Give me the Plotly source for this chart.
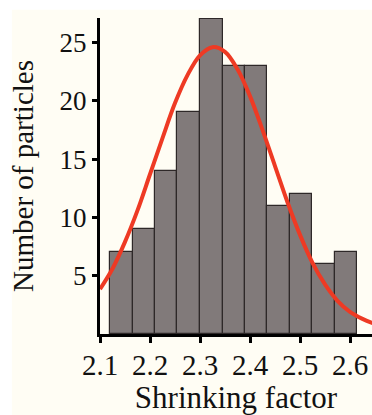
import plotly.graph_objects as go

# Histogram data
bin_centers = [2.1434, 2.1877, 2.2323, 2.2773, 2.3227, 2.3677, 2.4123, 2.4573, 2.5023, 2.5473, 2.5923]
counts = [7, 9, 14, 19, 27, 23, 23, 11, 12, 6, 7]
bin_width = 0.0449

# Fitted curve
fit_x = [2.100, 2.125, 2.150, 2.175, 2.200, 2.225, 2.250, 2.275, 2.300, 2.325,
         2.350, 2.375, 2.400, 2.425, 2.450, 2.475, 2.500, 2.525, 2.550, 2.575,
         2.600, 2.625, 2.650]
fit_y = [3.85, 5.6, 7.9, 10.6, 13.7, 16.8, 19.8, 22.2, 23.9, 24.6,
         24.2, 22.7, 20.4, 17.5, 14.4, 11.3, 8.5, 6.1, 4.25, 2.85,
         1.9, 1.3, 0.85]

x_ticks = [2.1, 2.2, 2.3, 2.4, 2.5, 2.6]
x_tick_text = ["2.1", "2.2", "2.3", "2.4", "2.5", "2.6"]
y_ticks = [5, 10, 15, 20, 25]

FONT = "Liberation Serif, Times New Roman, serif"
CREAM = "#FFFDF4"

fig = go.Figure()
fig.add_trace(go.Bar(
    x=bin_centers, y=counts, width=[bin_width] * len(counts),
    marker=dict(color="#817A7A", line=dict(color="#2E2828", width=1.2)),
    showlegend=False, hoverinfo="skip",
))
fig.add_trace(go.Scatter(
    x=fit_x, y=fit_y, mode="lines", line=dict(color="#EE3A24", width=4, shape="spline"),
    showlegend=False, hoverinfo="skip",
))

fig.update_layout(
    width=372, height=415,
    margin=dict(l=100, r=0, t=18, b=81),
    paper_bgcolor="white",
    plot_bgcolor=CREAM,
    font=dict(family=FONT, size=28, color="#111111"),
    bargap=0,
    shapes=[dict(type="rect", xref="paper", yref="paper",
                 x0=-0.324, x1=1.0, y0=-0.26, y1=1.026,
                 fillcolor=CREAM, line=dict(width=0), layer="below")],
    xaxis=dict(
        range=[2.1, 2.644], tickvals=x_ticks, ticktext=x_tick_text,
        showgrid=False, zeroline=False, showline=True, linecolor="black", linewidth=3,
        ticks="outside", ticklen=6, tickwidth=2.5, tickcolor="black",
        tickfont=dict(family=FONT, size=29), ticklabelstandoff=-3,
        title=dict(text="Shrinking factor", font=dict(family=FONT, size=31), standoff=2),
    ),
    yaxis=dict(
        range=[0, 27.1], tickvals=y_ticks,
        showgrid=False, zeroline=False, showline=True, linecolor="black", linewidth=3,
        ticks="outside", ticklen=5, tickwidth=2.5, tickcolor="black",
        tickfont=dict(family=FONT, size=27),
        title=dict(text="Number of particles", font=dict(family=FONT, size=29), standoff=18),
    ),
)

fig.write_html(
    "out.html",
    config={"displayModeBar": False},
    post_script="document.body.style.margin='0';document.body.style.overflow='hidden';",
)
